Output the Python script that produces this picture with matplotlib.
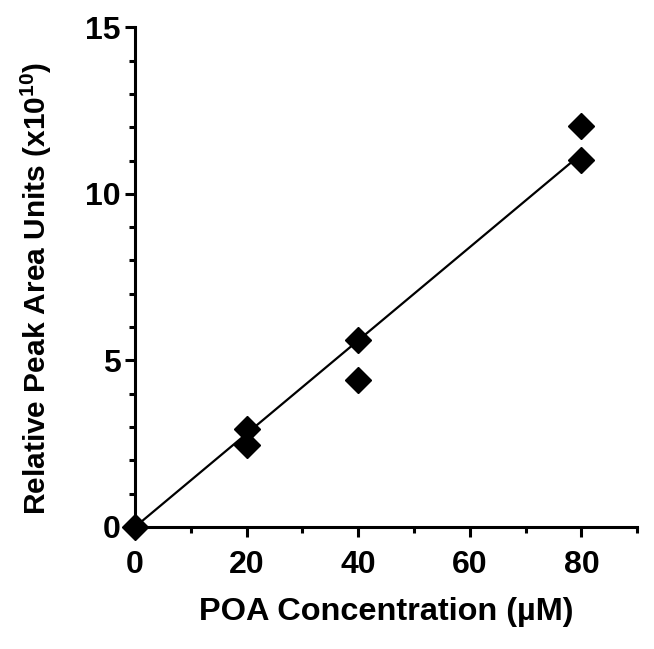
import numpy as np
import matplotlib
matplotlib.use("Agg")
import matplotlib.pyplot as plt
from matplotlib.ticker import MultipleLocator

# ------------------ DATA ------------------
poa_conc = [0, 20, 20, 40, 40, 80, 80]
peak_area = [0.0, 2.46, 2.94, 4.41, 5.61, 11.01, 12.03]

# ------------------ STYLE ------------------
plt.rcParams["font.family"] = ["Liberation Sans", "DejaVu Sans"]
plt.rcParams["font.weight"] = "bold"
plt.rcParams["mathtext.fontset"] = "custom"
plt.rcParams["mathtext.rm"] = "Liberation Sans:bold"
plt.rcParams["mathtext.bf"] = "Liberation Sans:bold"

fig = plt.figure(figsize=(6.54, 6.49), dpi=100)
ax = fig.add_axes([0.2064, 0.188, 0.768, 0.770])

# linear fit through origin
x = np.array(poa_conc, dtype=float)
y = np.array(peak_area)
slope = np.sum(x * y) / np.sum(x * x)
xfit = np.array([0, max(poa_conc)])
ax.plot(xfit, slope * xfit, color="black", lw=1.6, zorder=2)

ax.plot(poa_conc, peak_area, ls="none", marker="D", ms=13.5,
        color="black", zorder=3, clip_on=False)

ax.set_xlim(0, 90)
ax.set_ylim(0, 15)
ax.xaxis.set_major_locator(MultipleLocator(20))
ax.xaxis.set_minor_locator(MultipleLocator(10))
ax.yaxis.set_major_locator(MultipleLocator(5))
ax.yaxis.set_minor_locator(MultipleLocator(1))

for side in ["top", "right"]:
    ax.spines[side].set_visible(False)
for side in ["left", "bottom"]:
    ax.spines[side].set_linewidth(2.2)

ax.tick_params(which="major", length=7.5, width=2.2, labelsize=23)
ax.tick_params(which="minor", length=4.5, width=2.2)
ax.tick_params(axis="x", which="major", pad=9)
ax.tick_params(axis="y", which="major", pad=3)

ax.set_xlabel("POA Concentration (µM)", fontsize=23.4, fontweight="bold", labelpad=12)
ax.set_ylabel(r"Relative Peak Area Units (x10$^{10}$)", fontsize=21.5,
              fontweight="bold")
ax.yaxis.set_label_coords(-0.162, 0.478)

plt.savefig("out.png", dpi=100)
plt.close()
